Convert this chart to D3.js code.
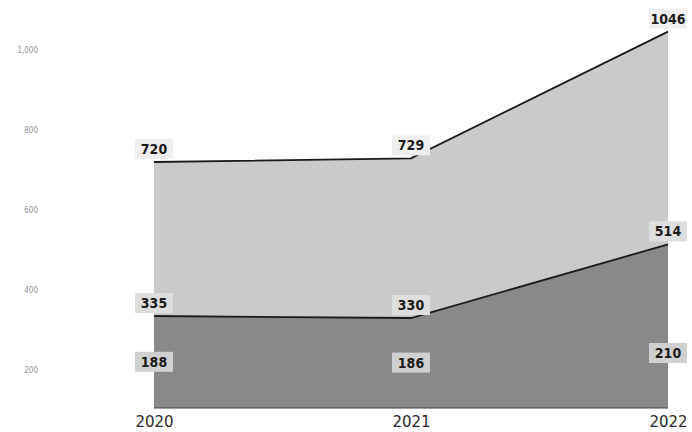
<!DOCTYPE html>
<html>
<head>
<meta charset="utf-8">
<script src="https://cdn.jsdelivr.net/npm/d3@7"></script>
<style>
  html, body { margin: 0; padding: 0; background: #ffffff; }
  svg { display: block; }
</style>
</head>
<body>
<svg id="chart" width="692" height="432"></svg>
<script>
// Yearly figures
const years = ["2020", "2021", "2022"];
const totalValues = [720, 729, 1046];   // upper band outline
const midValues = [335, 330, 514];      // lower band outline
const baseValues = [188, 186, 210];     // inner figures, labelled only
const yTicks = [200, 400, 600, 800, 1000];

const svg = d3.select("#chart");
const baseline = 408;

const x = d3.scalePoint().domain(years).range([154, 668]);
const y = d3.scaleLinear().domain([0, 1125]).range([450, 0]);

const rows = years.map((yr, i) => ({
  year: yr, total: totalValues[i], mid: midValues[i], base: baseValues[i]
}));

// light upper band between the two outlines
svg.append("path")
  .datum(rows)
  .attr("fill", "#cacaca")
  .attr("d", d3.area()
    .x(d => x(d.year))
    .y0(d => y(d.mid))
    .y1(d => y(d.total)));

// dark lower band down to the axis
svg.append("path")
  .datum(rows)
  .attr("fill", "#898989")
  .attr("d", d3.area()
    .x(d => x(d.year))
    .y0(baseline)
    .y1(d => y(d.mid)));

// outlines
const line = key => d3.line().x(d => x(d.year)).y(d => y(d[key]));
svg.append("path").datum(rows)
  .attr("fill", "none").attr("stroke", "#1a1a1a").attr("stroke-width", 1.8)
  .attr("d", line("total"));
svg.append("path").datum(rows)
  .attr("fill", "none").attr("stroke", "#1a1a1a").attr("stroke-width", 1.8)
  .attr("d", line("mid"));
svg.append("line")
  .attr("x1", x(years[0])).attr("x2", x(years[years.length - 1]))
  .attr("y1", baseline).attr("y2", baseline)
  .attr("stroke", "#444").attr("stroke-width", 1);

// y axis labels
const yAxis = d3.axisLeft(y).tickValues(yTicks).tickSize(0).tickPadding(4)
  .tickFormat(d3.format(","));
const gy = svg.append("g").attr("transform", "translate(42,0)").call(yAxis);
gy.select(".domain").remove();
gy.selectAll("text")
  .attr("fill", "#8f8f8f")
  .style("font-family", "'DejaVu Sans Condensed', 'DejaVu Sans', sans-serif")
  .style("font-size", "8px");

// x axis labels
const xAxis = d3.axisBottom(x).tickSize(0).tickPadding(8);
const gx = svg.append("g").attr("transform", `translate(0,${baseline})`).call(xAxis);
gx.select(".domain").remove();
gx.selectAll("text")
  .attr("fill", "#2a2a2a")
  .style("font-family", "'DejaVu Sans', sans-serif")
  .style("font-size", "15px");

// value labels with soft boxes
function labels(key, boxFill) {
  const g = svg.append("g").selectAll("g").data(rows).join("g")
    .attr("transform", d => `translate(${x(d.year)},${y(d[key]) - 13})`);
  g.append("rect")
    .attr("x", -19).attr("y", -10).attr("width", 38).attr("height", 20)
    .attr("fill", boxFill);
  g.append("text")
    .attr("text-anchor", "middle")
    .attr("dy", "0.36em")
    .attr("fill", "#1a1a1a")
    .style("font-family", "'DejaVu Sans Condensed', 'DejaVu Sans', sans-serif")
    .style("font-weight", "bold")
    .style("font-size", "14px")
    .text(d => d[key]);
}
labels("total", "#efefef");
labels("mid", "#dedede");
labels("base", "#d0d0d0");
</script>
</body>
</html>
